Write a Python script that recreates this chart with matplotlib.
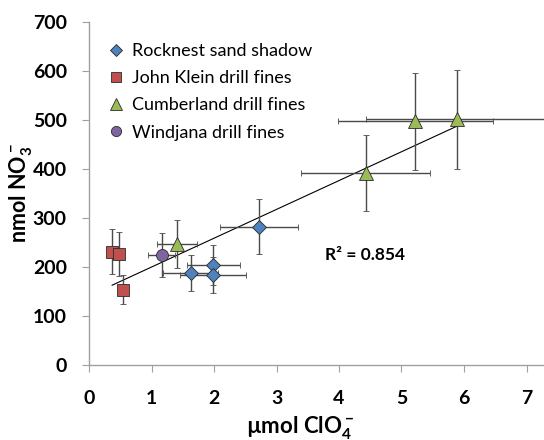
import numpy as np
import matplotlib
matplotlib.use("Agg")
import matplotlib.pyplot as plt

plt.rcParams['font.family'] = ['Lato', 'DejaVu Sans']
plt.rcParams['mathtext.fontset'] = 'custom'
plt.rcParams['mathtext.rm'] = 'Lato'
plt.rcParams['mathtext.bf'] = 'Lato:bold'
plt.rcParams['mathtext.default'] = 'bf'

# Data (µmol ClO4-, nmol NO3-) with error bars
rock_x = [2.72, 1.63, 1.99, 1.99]
rock_y = [282, 188, 204, 183]
rock_xerr = [0.63, 0.44, 0.43, 0.53]
rock_yerr = [56, 37, 40, 37]

jk_x = [0.37, 0.48, 0.54]
jk_y = [231, 226, 154]
jk_xerr = [0.06, 0.06, 0.06]
jk_yerr = [46, 45, 30]

cb_x = [1.41, 4.43, 5.22, 5.89]
cb_y = [247, 392, 497, 502]
cb_xerr = [0.32, 1.03, 1.24, 1.46]
cb_yerr = [49, 78, 99, 101]

wj_x = [1.16]
wj_y = [224]
wj_xerr = [0.21]
wj_yerr = [45]

labels = ["Rocknest sand shadow", "John Klein drill fines",
          "Cumberland drill fines", "Windjana drill fines"]
r2_text = "R² = 0.854"

fig = plt.figure(figsize=(5.44, 4.40), dpi=100)
ax = fig.add_axes([89/544, 75/440, (544-89)/544, 343/440])

ecol = '#4a4a4a'
common = dict(ecolor=ecol, elinewidth=1.0, capsize=2.5, capthick=1.0,
              markeredgecolor='#2a2a2a', markeredgewidth=0.6, linestyle='none')

series = [
    (rock_x, rock_y, rock_xerr, rock_yerr, 'D', 7.5, '#4F81BD'),
    (jk_x, jk_y, jk_xerr, jk_yerr, 's', 8.6, '#C0504D'),
    (cb_x, cb_y, cb_xerr, cb_yerr, '^', 10, '#9BBB59'),
    (wj_x, wj_y, wj_xerr, wj_yerr, 'o', 8.6, '#8064A2'),
]
handles = []
for (x, y, xe, ye, m, ms, c), lab in zip(series, labels):
    ax.errorbar(x, y, xerr=xe, yerr=ye, marker=m, markersize=ms,
                markerfacecolor=c, zorder=3, **common)
    h, = ax.plot([], [], marker=m, markersize=ms*0.85, markerfacecolor=c,
                 markeredgecolor='#2a2a2a', markeredgewidth=0.6,
                 linestyle='none', label=lab)
    handles.append(h)

# Linear trendline over all points
all_x = np.array(rock_x + jk_x + cb_x + wj_x)
all_y = np.array(rock_y + jk_y + cb_y + wj_y)
k, b = np.polyfit(all_x, all_y, 1)
xs = np.array([all_x.min(), all_x.max()])
ax.plot(xs, k*xs + b, color='black', linewidth=0.8, zorder=2)

ax.text(3.78, 224, r2_text, fontsize=12.5, fontweight='bold', ha='left', va='center')

ax.set_xlim(0, 7.28)
ax.set_ylim(0, 700)
ax.set_xticks(range(0, 8))
ax.set_yticks(range(0, 701, 100))
for s in ['top', 'right']:
    ax.spines[s].set_visible(False)
for s in ['left', 'bottom']:
    ax.spines[s].set_color('#a0a0a0')
    ax.spines[s].set_linewidth(1.0)
ax.tick_params(axis='both', direction='out', color='#a0a0a0', length=5,
               labelsize=14)
ax.tick_params(axis='x', pad=13)
ax.tick_params(axis='y', pad=11)
for t in ax.get_xticklabels() + ax.get_yticklabels():
    t.set_fontweight('bold')

ax.set_xlabel('µmol ClO$_4^-$', fontsize=16, fontweight='bold', va='center')
ax.set_ylabel('nmol NO$_3^-$', fontsize=15.5, fontweight='bold', va='center')
ax.xaxis.set_label_coords((300-89)/455, -(427-365)/343)
ax.yaxis.set_label_coords(-(89-20)/455, 0.5)

leg = ax.legend(handles=handles, loc='upper left', bbox_to_anchor=(0.028, 0.96),
                frameon=False, fontsize=13, handlelength=0.8, handletextpad=0.45,
                labelspacing=0.62, borderaxespad=0)

fig.savefig('out.png', dpi=100)
